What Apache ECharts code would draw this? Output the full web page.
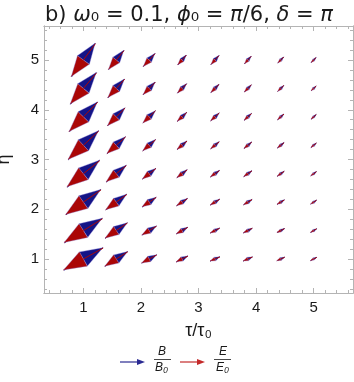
<!DOCTYPE html>
<html>
<head>
<meta charset="utf-8">
<script src="https://cdn.jsdelivr.net/npm/echarts@6/dist/echarts.min.js"></script>
<style>
  html, body { margin: 0; padding: 0; background: #fff; }
  #chart { width: 354px; height: 382px; }
</style>
</head>
<body>
<div id="chart"></div>
<script>
// grid of sample points
const tauGrid = [1, 1.571, 2.143, 2.714, 3.286, 3.857, 4.429, 5]
const etaGrid = [1, 1.571, 2.143, 2.714, 3.286, 3.857, 4.429, 5]

// B/B0 components, one inner array per tau column, eta rows from 1 up to 5
const bTau = [
  [0.677, 0.655, 0.604, 0.559, 0.525, 0.485, 0.448, 0.408],
  [0.393, 0.384, 0.360, 0.346, 0.317, 0.302, 0.285, 0.262],
  [0.258, 0.250, 0.242, 0.229, 0.219, 0.215, 0.207, 0.199],
  [0.201, 0.195, 0.187, 0.178, 0.170, 0.162, 0.154, 0.145],
  [0.167, 0.161, 0.162, 0.155, 0.146, 0.146, 0.139, 0.137],
  [0.159, 0.153, 0.147, 0.140, 0.133, 0.127, 0.121, 0.114],
  [0.134, 0.130, 0.125, 0.119, 0.115, 0.110, 0.104, 0.101],
  [0.107, 0.104, 0.101, 0.097, 0.093, 0.090, 0.087, 0.084]
]
const bEta = [
  [0.453, 0.493, 0.508, 0.543, 0.587, 0.603, 0.641, 0.676],
  [0.296, 0.312, 0.315, 0.336, 0.343, 0.362, 0.380, 0.388],
  [0.166, 0.181, 0.196, 0.215, 0.229, 0.249, 0.258, 0.266],
  [0.119, 0.131, 0.146, 0.161, 0.172, 0.182, 0.191, 0.200],
  [0.086, 0.099, 0.117, 0.130, 0.142, 0.158, 0.166, 0.182],
  [0.082, 0.094, 0.107, 0.118, 0.129, 0.137, 0.145, 0.152],
  [0.072, 0.080, 0.091, 0.101, 0.108, 0.114, 0.121, 0.125],
  [0.066, 0.073, 0.079, 0.085, 0.091, 0.094, 0.098, 0.101]
]

// E/E0 components (pointing the other way)
const eTau = [
  [-0.690, -0.668, -0.615, -0.572, -0.534, -0.497, -0.458, -0.420],
  [-0.400, -0.390, -0.368, -0.352, -0.325, -0.308, -0.292, -0.270],
  [-0.262, -0.255, -0.246, -0.234, -0.224, -0.219, -0.212, -0.204],
  [-0.204, -0.198, -0.190, -0.181, -0.174, -0.166, -0.158, -0.149],
  [-0.170, -0.164, -0.164, -0.158, -0.149, -0.149, -0.142, -0.139],
  [-0.161, -0.155, -0.149, -0.143, -0.136, -0.130, -0.124, -0.117],
  [-0.136, -0.132, -0.127, -0.121, -0.117, -0.112, -0.107, -0.103],
  [-0.109, -0.106, -0.103, -0.099, -0.095, -0.092, -0.089, -0.086]
]
const eEta = [
  [-0.440, -0.478, -0.495, -0.528, -0.570, -0.588, -0.625, -0.660],
  [-0.288, -0.304, -0.306, -0.327, -0.334, -0.353, -0.370, -0.379],
  [-0.161, -0.176, -0.190, -0.209, -0.223, -0.242, -0.251, -0.259],
  [-0.116, -0.127, -0.142, -0.157, -0.167, -0.177, -0.186, -0.195],
  [-0.083, -0.096, -0.114, -0.126, -0.138, -0.154, -0.161, -0.177],
  [-0.080, -0.091, -0.104, -0.115, -0.125, -0.133, -0.141, -0.148],
  [-0.070, -0.078, -0.088, -0.098, -0.105, -0.111, -0.118, -0.122],
  [-0.064, -0.071, -0.077, -0.083, -0.088, -0.091, -0.095, -0.098]
]

const majorTicks = [1, 2, 3, 4, 5]
const minorTicks = [0.4, 0.6, 0.8, 1.2, 1.4, 1.6, 1.8, 2.2, 2.4, 2.6, 2.8,
  3.2, 3.4, 3.6, 3.8, 4.2, 4.4, 4.6, 4.8, 5.2, 5.4, 5.6]

const axisMin = 0.316
const axisMax = 5.684
const frameColor = '#b4b4b4'
const blue = '#141487'
const red = '#aa0606'
const font = 'Liberation Sans'

function buildData (vx, vy) {
  const out = []
  tauGrid.forEach((t, i) => {
    etaGrid.forEach((e, j) => {
      out.push([t, e, vx[i][j], vy[i][j]])
    })
  })
  return out
}

// arrow centred on its point, head half the length
function arrowRenderer (color) {
  return function (params, api) {
    const x = api.value(0)
    const y = api.value(1)
    const vx = api.value(2)
    const vy = api.value(3)
    const tail = api.coord([x - vx / 2, y - vy / 2])
    const tip = api.coord([x + vx / 2, y + vy / 2])
    const dx = tip[0] - tail[0]
    const dy = tip[1] - tail[1]
    const len = Math.hypot(dx, dy)
    const ux = dx / len
    const uy = dy / len
    const hl = len * 0.5
    const hw = len * 0.18
    const bx = tip[0] - ux * hl
    const by = tip[1] - uy * hl
    return {
      type: 'group',
      children: [
        {
          type: 'line',
          shape: { x1: tail[0], y1: tail[1], x2: tip[0], y2: tip[1] },
          style: { stroke: color, lineWidth: 1 }
        },
        {
          type: 'polygon',
          shape: { points: [tip, [bx - uy * hw, by + ux * hw], [bx + uy * hw, by - ux * hw]] },
          style: { fill: color, stroke: 'rgba(140, 130, 215, 0.45)', lineWidth: 0.8 }
        }
      ]
    }
  }
}

function frameAxis (pos, ticks, len, withLabel) {
  return {
    type: 'value',
    position: pos,
    min: axisMin,
    max: axisMax,
    axisLine: { show: true, lineStyle: { color: frameColor, width: 1 } },
    axisTick: { show: true, inside: true, length: len, customValues: ticks, lineStyle: { color: frameColor } },
    axisLabel: withLabel
      ? { show: true, customValues: ticks, color: '#1a1a1a', fontSize: 15, fontFamily: font, margin: pos === 'bottom' ? 7 : 5 }
      : { show: false },
    splitLine: { show: false }
  }
}

const xMain = frameAxis('bottom', majorTicks, 5, true)
xMain.name = 'τ/τ₀'
xMain.nameLocation = 'middle'
xMain.nameGap = 29
xMain.nameTextStyle = { color: '#1a1a1a', fontSize: 18, fontFamily: font }

const yMain = frameAxis('left', majorTicks, 5, true)
yMain.name = 'η'
yMain.nameLocation = 'middle'
yMain.nameGap = 31
yMain.nameTextStyle = { color: '#1a1a1a', fontSize: 18, fontFamily: font }

const option = {
  animation: false,
  backgroundColor: '#fff',
  title: {
    text: 'b) {i|ω}₀ = 0.1, {i|ϕ}₀ = {i|π}/6, {i|δ} = {i|π}',
    left: 45,
    top: 5,
    padding: 0,
    textStyle: {
      color: '#1a1a1a',
      fontSize: 21,
      fontWeight: 'normal',
      fontFamily: 'DejaVu Sans',
      rich: {
        i: { fontSize: 21, fontStyle: 'italic', fontFamily: 'DejaVu Sans', color: '#1a1a1a' }
      }
    }
  },
  grid: { left: 44, right: 1, top: 26, bottom: 89, outerBoundsMode: 'none', containLabel: false },
  xAxis: [
    xMain,
    frameAxis('bottom', minorTicks, 3, false),
    frameAxis('top', majorTicks, 5, false),
    frameAxis('top', minorTicks, 3, false)
  ],
  yAxis: [
    yMain,
    frameAxis('left', minorTicks, 3, false),
    frameAxis('right', majorTicks, 5, false),
    frameAxis('right', minorTicks, 3, false)
  ],
  series: [
    {
      name: 'B/B0',
      type: 'custom',
      xAxisIndex: 0,
      yAxisIndex: 0,
      renderItem: arrowRenderer(blue),
      encode: { x: 0, y: 1 },
      data: buildData(bTau, bEta)
    },
    {
      name: 'E/E0',
      type: 'custom',
      xAxisIndex: 0,
      yAxisIndex: 0,
      renderItem: arrowRenderer(red),
      encode: { x: 0, y: 1 },
      data: buildData(eTau, eEta)
    }
  ],
  graphic: [
    // legend: blue arrow + B/B0
    { type: 'line', shape: { x1: 120, y1: 362, x2: 139, y2: 362 }, style: { stroke: '#2a2a92', lineWidth: 1.2 } },
    { type: 'polygon', shape: { points: [[145, 362], [137, 359], [137, 365]] }, style: { fill: '#2a2a92' } },
    { type: 'text', left: 158, top: 346, style: { text: 'B', font: 'italic 12px "Liberation Sans"', fill: '#1a1a1a' } },
    { type: 'line', shape: { x1: 154, y1: 359.5, x2: 171, y2: 359.5 }, style: { stroke: '#1a1a1a', lineWidth: 0.8 } },
    { type: 'text', left: 155, top: 362, style: { text: 'B₀', font: 'italic 12px "Liberation Sans"', fill: '#1a1a1a' } },
    // legend: red arrow + E/E0
    { type: 'line', shape: { x1: 180, y1: 362, x2: 199, y2: 362 }, style: { stroke: '#c42a2a', lineWidth: 1.2 } },
    { type: 'polygon', shape: { points: [[205, 362], [197, 359], [197, 365]] }, style: { fill: '#c42a2a' } },
    { type: 'text', left: 219, top: 346, style: { text: 'E', font: 'italic 12px "Liberation Sans"', fill: '#1a1a1a' } },
    { type: 'line', shape: { x1: 214, y1: 359.5, x2: 231, y2: 359.5 }, style: { stroke: '#1a1a1a', lineWidth: 0.8 } },
    { type: 'text', left: 216, top: 362, style: { text: 'E₀', font: 'italic 12px "Liberation Sans"', fill: '#1a1a1a' } }
  ]
}

const chart = echarts.init(document.getElementById('chart'), null, { renderer: 'canvas' })
chart.setOption(option)
window.addEventListener('resize', () => chart.resize())
</script>
</body>
</html>
